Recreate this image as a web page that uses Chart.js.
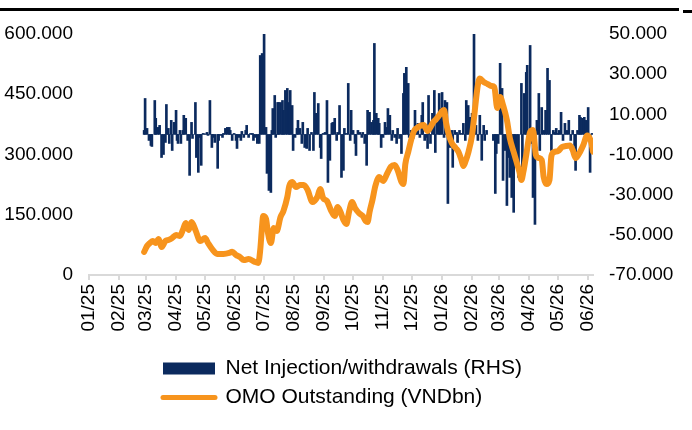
<!DOCTYPE html>
<html>
<head>
<meta charset="utf-8">
<script src="https://cdn.jsdelivr.net/npm/chart.js@4.4.1/dist/chart.umd.min.js"></script>
<style>
  body { margin: 0; background: #fff; }
  #wrap { position: relative; width: 692px; height: 430px; }
  .rule { position: absolute; background: #000; }
</style>
</head>
<body>
<div id="wrap">
  <canvas id="omo_chart"></canvas>
  <div class="rule" style="left:0;top:8px;width:679px;height:3px"></div>
  <div class="rule" style="left:683px;top:10px;width:9px;height:3px"></div>
</div>
<script>
// x positions are days counted from 01/01/2025
const month_days = [0, 31, 59, 90, 120, 151, 181, 212, 243, 273, 304, 334, 365, 396, 424, 455, 485, 516]
const month_labels = ['01/25', '02/25', '03/25', '04/25', '05/25', '06/25', '07/25', '08/25', '09/25',
    '10/25', '11/25', '12/25', '01/26', '02/26', '03/26', '04/26', '05/26', '06/26']

// Net injection/withdrawals, VNDbn (right axis)
const bar_days = [57, 58, 60, 62, 64, 65, 68, 69, 71, 73, 75, 77, 79, 80, 82, 83, 85, 86, 88, 90,
    91, 92, 94, 95, 97, 98, 100, 102, 104, 106, 107, 110, 111, 113, 115, 116, 118, 120, 122, 123,
    125, 127, 128, 130, 133, 134, 136, 138, 139, 141, 143, 145, 146, 148, 150, 152, 153, 155, 157, 158,
    160, 162, 163, 165, 167, 169, 170, 172, 174, 176, 177, 179, 181, 183, 184, 186, 188, 189, 190, 192,
    193, 195, 196, 198, 200, 201, 203, 205, 207, 208, 210, 211, 213, 215, 216, 218, 220, 221, 223, 225,
    226, 228, 230, 232, 233, 235, 237, 239, 240, 242, 244, 246, 247, 249, 251, 252, 254, 256, 257, 259,
    261, 263, 264, 266, 268, 270, 271, 273, 275, 276, 278, 280, 282, 283, 285, 287, 288, 290, 292, 294,
    295, 297, 299, 300, 302, 304, 306, 307, 309, 311, 313, 314, 316, 318, 319, 321, 323, 325, 326, 328,
    330, 331, 333, 335, 337, 338, 340, 342, 344, 345, 347, 348, 350, 351, 353, 355, 357, 358, 360, 362,
    363, 365, 367, 368, 370, 371, 373, 375, 376, 378, 380, 381, 383, 385, 387, 389, 390, 392, 394, 396,
    397, 398, 400, 402, 404, 406, 408, 409, 411, 418, 420, 421, 423, 425, 427, 428, 430, 432, 433, 435,
    437, 439, 440, 442, 444, 447, 448, 450, 452, 453, 456, 458, 459, 461, 463, 465, 466, 468, 470, 472,
    474, 476, 478, 480, 482, 483, 485, 486, 488, 490, 492, 494, 496, 498, 500, 502, 503, 505, 507, 508,
    510, 512, 514, 515, 516, 518, 520]
const bar_values = [2000, 17900, 3000, -3000, -5500, -6000, 16900, 8000, 3500, 4500, -11500, -10000, -4000, 14900, 3000, -4500, 7000, -8000, 6000, 12000,
    -3000, -4500, 2000, -4500, 2000, 9500, 8000, -3000, -20400, 6000, -2000, 15900, -11500, -18900, -1500, -15400, 500, 300, 1000, -500,
    16900, -6500, -1500, -4000, -16900, -3000, -500, -1500, 500, 3000, 3500, 3500, 2000, -3000, 500, -3000, -7000, -1500, -3000, 1500,
    -1500, 2000, 4500, -1500, 500, 500, -3000, -1500, -4500, -4500, 39300, 40300, 55000, 3500, -19400, -27900, -28900, 2000, 12900, 19400,
    -1500, 15900, 15900, 15900, 16900, 12000, 21900, 22900, 15900, 21900, 14400, -8000, -1500, 3000, 7000, 3000, -4500, 6000, -6500, -7000,
    3000, -8000, 1000, -8000, 20900, 10500, 15400, -6500, -12000, 500, 1000, 16900, -23900, -12900, 5500, 6000, 8000, -3000, 1000, 14400,
    -21400, -17900, 3000, 500, 25400, -3000, 12000, 2000, -4500, -10500, 2000, 1000, -1500, 1000, -4500, -15400, 12000, 11000, 6000, 7000,
    45300, 10500, 8000, 5500, -6500, -1500, 6000, 3500, 12900, 9500, -3000, 2000, -1500, -4500, 3000, -2000, -9500, 20400, 30400, 33400,
    25400, -1500, 2000, -2000, 12000, 3000, 5500, -1500, 9500, 15900, -3000, -1500, -7000, 19400, -4500, 10500, 21900, -9000, 6000, 20400,
    12900, 20900, -1500, 16900, 15900, -34400, -6500, 2000, -16400, 2000, 1000, -4000, 2000, 500, 5500, -3000, 16900, 14400, 8500, 10500,
    7000, 55000, 4500, -3000, 9500, -12900, 4500, -3000, 2000, -3000, -29400, -9500, -4500, 35400, 22900, -22900, -8000, -35400, -11500, -21400,
    -31400, -38800, -14400, -11500, -21400, 25400, -17900, 20400, 30900, 34400, 44300, -4500, -31400, -44800, 7000, 20400, -8000, 13400, 2000, 12000,
    32900, 26900, -8000, 2000, 1000, 3000, 500, 2000, 11000, -3000, 5500, 2000, 7000, -3000, 2000, -5500, -17900, 2000, 9500, 8500,
    8000, 8500, 7000, -1500, 13400, -18900, 500]

// OMO outstanding, VNDbn (left axis)
const omo_days = [57, 60, 63, 66, 69, 72, 75, 79, 82, 86, 90, 94, 97, 100, 103, 106, 110, 115, 120, 123,
    128, 133, 139, 145, 148, 152, 156, 160, 165, 171, 175, 177, 179, 180, 183, 185, 188, 191, 194, 198,
    201, 205, 207, 210, 214, 218, 222, 226, 231, 236, 239, 242, 246, 250, 254, 257, 260, 263, 266, 269,
    272, 275, 279, 283, 286, 288, 290, 293, 296, 300, 304, 308, 312, 316, 319, 323, 325, 327, 330, 333,
    336, 339, 342, 346, 350, 353, 356, 359, 363, 365, 367, 369, 372, 375, 379, 382, 385, 387, 389, 392,
    396, 398, 400, 402, 404, 408, 412, 416, 419, 422, 425, 428, 432, 435, 439, 442, 445, 447, 449, 452,
    456, 459, 462, 465, 468, 470, 473, 476, 478, 481, 485, 489, 493, 497, 500, 503, 507, 511, 515, 519, 521]
const omo_values = [57300, 72200, 79700, 84600, 79700, 89600, 69700, 84600, 87100, 92100, 99600, 97100, 112000, 129400, 112000, 131900, 112000, 84600, 92100, 79700,
    62200, 52300, 52300, 54800, 58000, 49800, 44800, 37300, 39800, 33100, 29900, 62200, 124500, 146900, 139400, 104600, 79700, 117000, 109500, 144400,
    159300, 194200, 221600, 231500, 219100, 224000, 224000, 211600, 181700, 194200, 214100, 191700, 184200, 161800, 146900, 169300, 156800, 136900, 127000, 159300,
    181700, 166800, 154300, 146900, 134400, 131900, 156800, 186700, 221600, 244000, 234000, 251400, 269600, 273800, 261400, 231500, 226500, 276300, 306200, 336100,
    358500, 365900, 370900, 373400, 358500, 368400, 380900, 388300, 400800, 408300, 410800, 380900, 348500, 328600, 316200, 306200, 286300, 271300, 281300, 303700,
    348500, 390800, 435600, 473000, 489200, 480500, 475500, 470500, 468000, 415700, 443100, 423200, 385900, 341000, 306200, 281300, 256400, 236500, 256400, 298700,
    356000, 361000, 298700, 291300, 286300, 244000, 226500, 236500, 296200, 306200, 308700, 318600, 321100, 322400, 311200, 291300, 303700, 323600, 347300, 331800, 306900]

const navy = '#0B2A5E'
const orange = '#F7941D'

Chart.defaults.font.family = "'Liberation Sans', Arial, sans-serif"
Chart.defaults.color = '#000'

let fmtNum = v => {
    if (v === 0) return '0'
    let s = Math.abs(v).toString().replace(/\B(?=(\d{3})+(?!\d))/g, '.')
    return (v < 0 ? '-' : '') + s
}

// legend rows start under the middle of the plot, both left aligned
const legendShift = {
    id: 'legendShift',
    beforeDraw(chart) {
        chart.legend.left = 155
    }
}

const ctx = document.getElementById('omo_chart').getContext('2d')
let chart = new Chart(ctx, {
    type: 'bar',
    data: {
        datasets: [{
            type: 'bar',
            label: 'Net Injection/withdrawals (RHS)',
            data: bar_days.map((d, i) => ({ x: d, y: bar_values[i] })),
            backgroundColor: navy,
            borderWidth: 0,
            barThickness: 2,
            yAxisID: 'y1',
            order: 2
        }, {
            type: 'line',
            label: 'OMO Outstanding (VNDbn)',
            data: omo_days.map((d, i) => ({ x: d, y: omo_values[i] })),
            borderColor: orange,
            backgroundColor: orange,
            borderWidth: 6,
            pointRadius: 0,
            cubicInterpolationMode: 'monotone',
            borderJoinStyle: 'round',
            borderCapStyle: 'round',
            yAxisID: 'y',
            order: 1
        }]
    },
    options: {
        responsive: true,
        maintainAspectRatio: false,
        animation: false,
        layout: { padding: { top: 34, bottom: 12, left: 0, right: 0 } },
        plugins: {
            tooltip: { enabled: false },
            legend: {
                position: 'bottom',
                align: 'start',
                fullSize: false,
                labels: {
                    usePointStyle: true,
                    pointStyleWidth: 52,
                    boxHeight: 12,
                    padding: 8,
                    color: '#000',
                    font: { size: 21 },
                    generateLabels: chart => {
                        let items = Chart.defaults.plugins.legend.labels.generateLabels(chart)
                        items.sort((a, b) => a.datasetIndex - b.datasetIndex)
                        items[0].pointStyle = 'rect'
                        items[0].fillStyle = navy
                        items[0].lineWidth = 0
                        items[1].pointStyle = 'line'
                        items[1].strokeStyle = orange
                        items[1].lineWidth = 5
                        items[1].lineCap = 'round'
                        return items
                    }
                }
            }
        },
        scales: {
            x: {
                type: 'linear',
                min: 0,
                max: 521,
                offset: false,
                grid: { display: true, offset: false, drawOnChartArea: false, drawTicks: true, tickLength: 5, color: '#d9d9d9', lineWidth: 2 },
                border: { display: true, color: '#d9d9d9', width: 2 },
                ticks: {
                    autoSkip: false,
                    minRotation: 90,
                    maxRotation: 90,
                    padding: 4,
                    font: { size: 19 },
                    callback: value => month_labels[month_days.indexOf(value)]
                },
                afterBuildTicks: scale => {
                    scale.ticks = month_days.map(v => ({ value: v }))
                },
                afterFit: scale => { scale.height = 75 }
            },
            y: {
                position: 'left',
                min: 0,
                max: 600000,
                grid: { display: false, drawTicks: false },
                border: { display: false },
                ticks: { stepSize: 150000, padding: 16, font: { size: 19 }, callback: v => fmtNum(v) },
                afterFit: scale => { scale.width = 89 }
            },
            y1: {
                position: 'right',
                min: -70000,
                max: 50000,
                grid: { display: false, drawTicks: false },
                border: { display: false },
                ticks: { stepSize: 20000, padding: 16, font: { size: 19 }, callback: v => fmtNum(v) },
                afterFit: scale => { scale.width = 99 }
            }
        }
    },
    plugins: [legendShift]
})
</script>
</body>
</html>
